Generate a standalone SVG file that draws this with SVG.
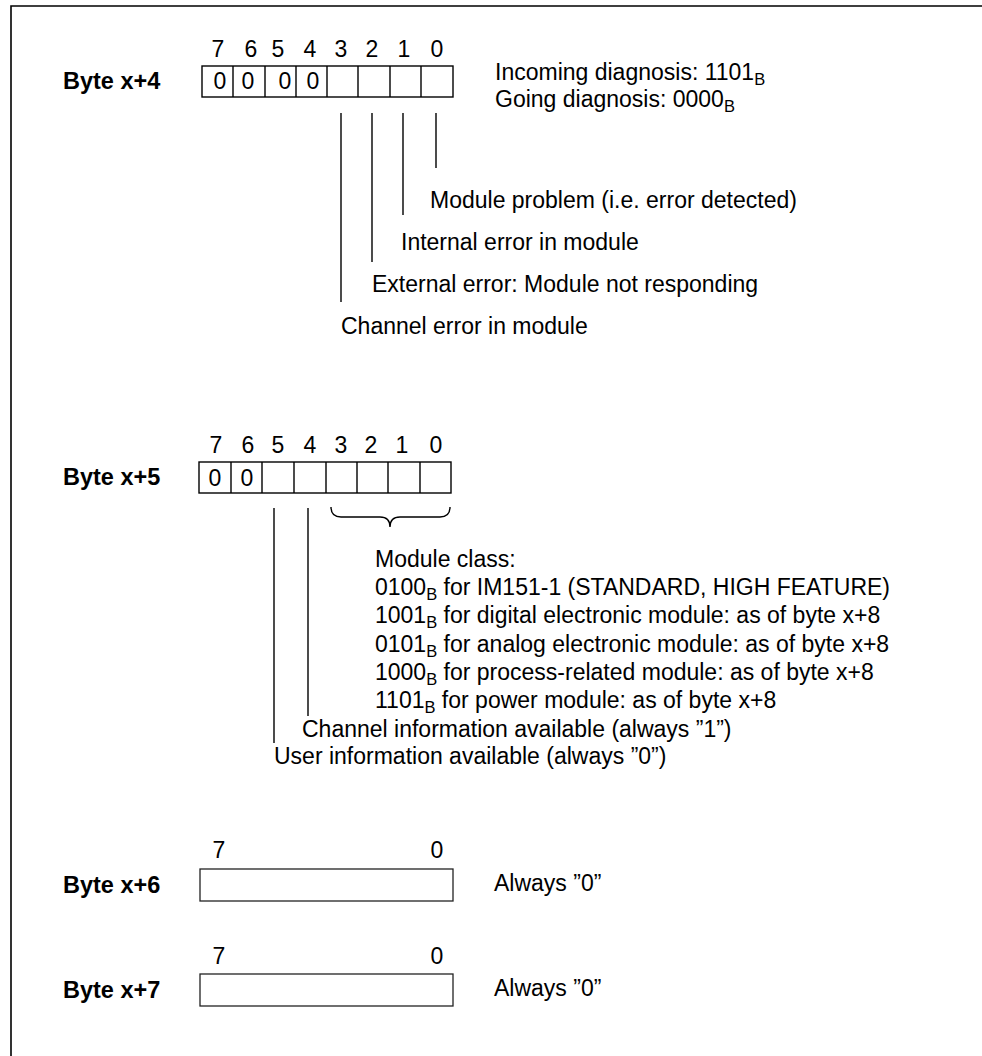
<svg xmlns="http://www.w3.org/2000/svg" width="982" height="1056" viewBox="0 0 982 1056">
<style>
text{font-family:"Liberation Sans",Arial,Helvetica,sans-serif;font-size:23px;fill:#000}
.b{font-weight:bold;font-size:23.5px}
.m{text-anchor:middle}
.sub{font-size:16.5px}
.cell{fill:#fff;stroke:#000;stroke-width:1.4}
.div{stroke:#000;stroke-width:1.4}
.box{fill:#fff;stroke:#222;stroke-width:1.3}
.ln{stroke:#000;stroke-width:1.4;fill:none}
</style>
<rect width="982" height="1056" fill="#fff"/>
<g id="frame">
<path d="M11,1056 V6 H982" fill="none" stroke="#000" stroke-width="1.6"/>
</g>

<g id="byte4">
<text class="b" x="63" y="89">Byte x+4</text>
<g class="m">
<text x="218" y="57">7</text><text x="251" y="57">6</text><text x="278" y="57">5</text><text x="310" y="57">4</text>
<text x="341" y="57">3</text><text x="372" y="57">2</text><text x="404" y="57">1</text><text x="437" y="57">0</text>
</g>
<rect class="cell" x="202" y="66" width="251" height="31"/>
<path class="div" d="M233,66V97M265,66V97M296,66V97M327,66V97M358,66V97M390,66V97M421,66V97"/>
<g class="m">
<text x="220" y="89">0</text><text x="248" y="89">0</text><text x="285" y="89">0</text><text x="313" y="89">0</text>
</g>
<text x="495" y="80">Incoming diagnosis: 1101<tspan class="sub" dy="5">B</tspan></text>
<text x="495" y="107">Going diagnosis: 0000<tspan class="sub" dy="5">B</tspan></text>
<text x="430" y="208">Module problem (i.e. error detected)</text>
<text x="401" y="250">Internal error in module</text>
<text x="372" y="292">External error: Module not responding</text>
<text x="341" y="334">Channel error in module</text>
</g>

<g id="byte5">
<text class="b" x="63" y="485">Byte x+5</text>
<g class="m">
<text x="216" y="453">7</text><text x="248" y="453">6</text><text x="278" y="453">5</text><text x="310" y="453">4</text>
<text x="341" y="453">3</text><text x="371" y="453">2</text><text x="402" y="453">1</text><text x="436" y="453">0</text>
</g>
<rect class="cell" x="199" y="462" width="252" height="31"/>
<path class="div" d="M231,462V493M262,462V493M294,462V493M326,462V493M357,462V493M388,462V493M420,462V493"/>
<g class="m">
<text x="215" y="486">0</text><text x="247" y="486">0</text>
</g>
<text x="375" y="567">Module class:</text>
<text x="375" y="595">0100<tspan class="sub" dy="5">B</tspan><tspan dy="-5"> for IM151-1 (STANDARD, HIGH FEATURE)</tspan></text>
<text x="375" y="623">1001<tspan class="sub" dy="5">B</tspan><tspan dy="-5"> for digital electronic module: as of byte x+8</tspan></text>
<text x="375" y="652">0101<tspan class="sub" dy="5">B</tspan><tspan dy="-5"> for analog electronic module: as of byte x+8</tspan></text>
<text x="375" y="680">1000<tspan class="sub" dy="5">B</tspan><tspan dy="-5"> for process-related module: as of byte x+8</tspan></text>
<text x="375" y="708">1101<tspan class="sub" dy="5">B</tspan><tspan dy="-5"> for power module: as of byte x+8</tspan></text>
<text x="302" y="737">Channel information available (always ”1”)</text>
<text x="274" y="764">User information available (always ”0”)</text>
</g>

<g id="byte6">
<text class="b" x="63" y="893">Byte x+6</text>
<text class="m" x="219" y="858">7</text><text class="m" x="437" y="858">0</text>
<rect class="box" x="200" y="869" width="253" height="32"/>
<text x="494" y="891">Always ”0”</text>
</g>

<g id="byte7">
<text class="b" x="63" y="998">Byte x+7</text>
<text class="m" x="219" y="964">7</text><text class="m" x="437" y="964">0</text>
<rect class="box" x="200" y="974" width="253" height="32"/>
<text x="494" y="996">Always ”0”</text>
</g>

<g id="connectors">
<path class="ln" d="M341,113V302M372,113V262M403,113V215M436,113V168"/>
<path class="ln" d="M331,507Q331,517 341,517H380Q390,517 390,527Q390,517 400,517H440Q450,517 450,507"/>
<path class="ln" d="M308,508V716M274,508V743"/>
</g>
</svg>
